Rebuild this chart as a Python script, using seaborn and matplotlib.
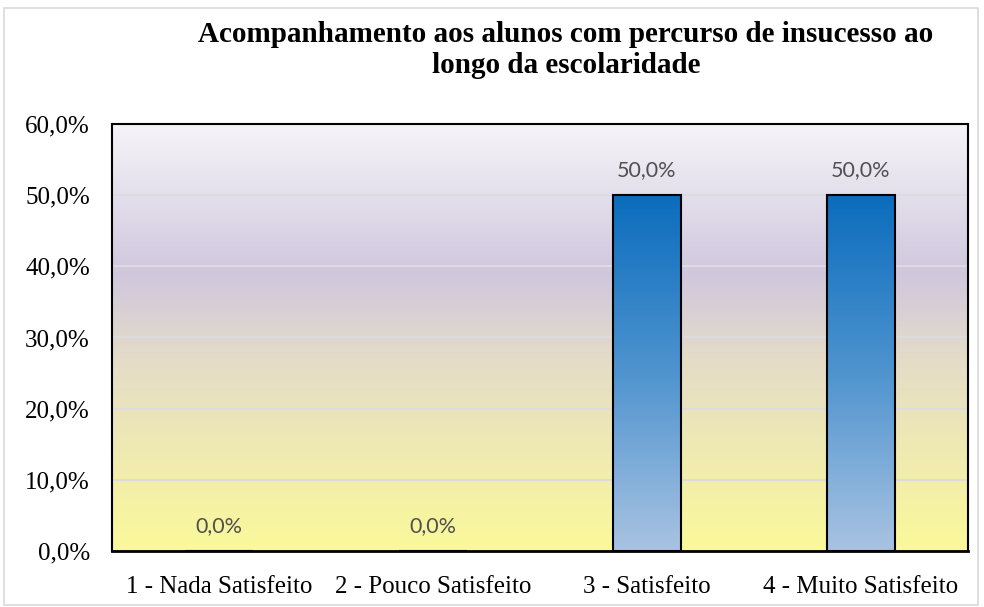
import numpy as np
import pandas as pd
import seaborn as sns
import matplotlib.pyplot as plt
from matplotlib.colors import LinearSegmentedColormap
from matplotlib.patches import Rectangle

categorias = ["1 - Nada Satisfeito", "2 - Pouco Satisfeito", "3 - Satisfeito", "4 - Muito Satisfeito"]
percentagens = [0.0, 0.0, 50.0, 50.0]
titulo = "Acompanhamento aos alunos com percurso de insucesso ao\nlongo da escolaridade"
y_ticks = [0, 10, 20, 30, 40, 50, 60]

df = pd.DataFrame({"categoria": categorias, "pct": percentagens})

sns.set_style("white")
plt.rcParams["font.family"] = ["Liberation Serif", "DejaVu Serif"]

fig = plt.figure(figsize=(9.84, 6.07), dpi=100)
ax = fig.add_axes([0.1138, 0.0923, 0.8699, 0.7034])

# fundo em gradiente (lilas em cima, amarelo em baixo)
bg_cmap = LinearSegmentedColormap.from_list(
    "bg", [(0.0, "#fbf99a"), (0.45, "#e4dcc8"), (0.65, "#d0c7de"), (1.0, "#f5f4f8")])
grad = np.linspace(0, 1, 256).reshape(-1, 1)
ax.imshow(grad, cmap=bg_cmap, aspect="auto", origin="lower",
          extent=[0, 1, 0, 1], transform=ax.transAxes, zorder=0)

sns.barplot(data=df, x="categoria", y="pct", ax=ax, width=0.32,
            color="#2f80c8", edgecolor="black", linewidth=1.5, zorder=3)

ax.set_xlim(-0.5, len(categorias) - 0.5)
ax.set_ylim(0, 60)
ax.set_yticks(y_ticks)
ax.set_yticklabels([f"{t:.1f}".replace(".", ",") + "%" for t in y_ticks])
ax.yaxis.grid(True, color="#dcdcdc", linewidth=1.5, zorder=1)
ax.set_axisbelow(True)

# gradiente nas barras
bar_cmap = LinearSegmentedColormap.from_list("bar", ["#a9c3e2", "#4f94cf", "#0b6cbd"])
for p in ax.patches:
    h = p.get_height()
    if h <= 0:
        continue
    x0 = p.get_x()
    w = p.get_width()
    im = ax.imshow(grad, cmap=bar_cmap, aspect="auto", origin="lower",
                   extent=[x0, x0 + w, 0, h], zorder=2.5)
    im.set_clip_path(p)
    p.set_facecolor("none")

# rotulos de dados
for i, v in enumerate(percentagens):
    ax.annotate(f"{v:.1f}".replace(".", ",") + "%", (i, v), xytext=(0, 18),
                textcoords="offset points", ha="center", va="center",
                fontsize=15.5, color="#505050", family=["Lato", "DejaVu Sans"])

ax.set_xlabel("")
ax.set_ylabel("")
ax.set_xticks(range(len(categorias)))
ax.set_xticklabels(categorias)
ax.set_xticks(np.arange(-0.5, len(categorias)), minor=True)
ax.tick_params(axis="x", which="major", length=0, pad=18, labelsize=18, labelcolor="black")
ax.tick_params(axis="x", which="minor", length=6, width=1.2, direction="out", color="black")
ax.tick_params(axis="y", length=0, pad=16, labelsize=18, labelcolor="black")

for s in ax.spines.values():
    s.set_color("black")
    s.set_linewidth(1.5)
ax.spines["bottom"].set_linewidth(2)

fig.text(0.575, 0.918, titulo, ha="center", va="center", fontsize=21,
         fontweight="bold", linespacing=1.2, color="black")

fig.patches.append(Rectangle((0.004, 0.003), 0.99, 0.984, transform=fig.transFigure,
                             fill=False, edgecolor="#d9d9d9", linewidth=1.2))

fig.savefig("out.png", dpi=100)
